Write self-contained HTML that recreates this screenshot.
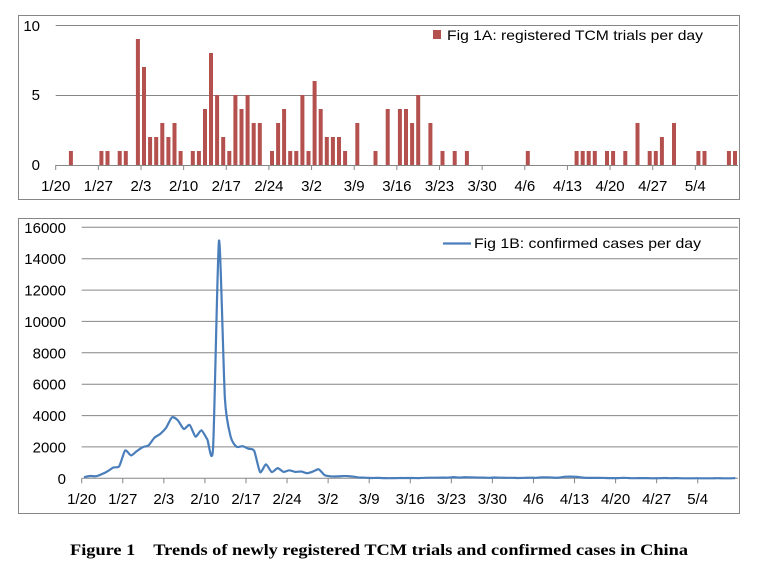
<!DOCTYPE html>
<html><head><meta charset="utf-8"><style>
html,body{margin:0;padding:0;background:#fff}
svg{display:block}
text{font-family:"Liberation Sans",sans-serif;fill:#000}
</style></head><body>
<svg id="s" width="757" height="573" xmlns="http://www.w3.org/2000/svg">
<rect x="18.5" y="15.5" width="721" height="184" fill="#fff" stroke="#868686"/>
<rect x="18.5" y="218.5" width="721" height="295" fill="#fff" stroke="#868686"/>
<g id="g"></g>
<text x="70" y="555" font-weight="bold" font-size="15.5" textLength="618" lengthAdjust="spacingAndGlyphs" style="font-family:'Liberation Serif',serif;white-space:pre" xml:space="preserve">Figure 1&#160;&#160;&#160; Trends of newly registered TCM trials and confirmed cases in China</text>
</svg>
<script>
var g=document.getElementById('g'),h='';
var L=55.7,R=738,Z=165,T=25,dw=(R-L)/112;
[25,95,165].forEach(function(y,i){h+='<line x1="'+L+'" x2="'+R+'" y1="'+(y+0.5)+'" y2="'+(y+0.5)+'" stroke="#868686"/>';});
h+='<text x="40" y="31" font-size="15" text-anchor="end">10</text><text x="40" y="100" font-size="15" text-anchor="end">5</text><text x="40" y="170" font-size="15" text-anchor="end">0</text>';
var bars={2:1,7:1,8:1,10:1,11:1,13:9,14:7,15:2,16:2,17:3,18:2,19:3,20:1,22:1,23:1,24:4,25:8,26:5,27:2,28:1,29:5,30:4,31:5,32:3,33:3,35:1,36:3,37:4,38:1,39:1,40:5,41:1,42:6,43:4,44:2,45:2,46:2,47:1,49:3,52:1,54:4,56:4,57:4,58:3,59:5,61:3,63:1,65:1,67:1,77:1,85:1,86:1,87:1,88:1,90:1,91:1,93:1,95:3,97:1,98:1,99:2,101:3,105:1,106:1,110:1,111:1};
for(var k in bars){var c=L+(+k+0.5)*dw,v=bars[k]*(Z-T)/10;h+='<rect x="'+(c-2).toFixed(1)+'" y="'+(Z-v).toFixed(1)+'" width="4" height="'+v.toFixed(1)+'" fill="#b4504e"/>';}
var lab=['1/20','1/27','2/3','2/10','2/17','2/24','3/2','3/9','3/16','3/23','3/30','4/6','4/13','4/20','4/27','5/4'];
lab.forEach(function(s,i){var x=L+i*7*dw;h+='<line x1="'+x+'" x2="'+x+'" y1="'+Z+'" y2="'+(Z+5)+'" stroke="#868686"/><text x="'+x+'" y="191" font-size="15" text-anchor="middle">'+s+'</text>';});
h+='<rect x="433" y="30" width="8" height="9" fill="#b4504e"/><text x="447" y="40" font-size="14" textLength="256" lengthAdjust="spacingAndGlyphs">Fig 1A: registered TCM trials per day</text>';
var L2=81.7,R2=738,Z2=478.3,T2=227.3,dw2=5.867,sc=(Z2-T2)/16000;
for(var i=0;i<=8;i++){var y=Z2-i*2000*sc;h+='<line x1="'+L2+'" x2="'+R2+'" y1="'+y.toFixed(1)+'" y2="'+y.toFixed(1)+'" stroke="#868686"/><text x="66" y="'+(y+5.5).toFixed(1)+'" font-size="15" text-anchor="end">'+(i*2000)+'</text>';}
lab.forEach(function(s,i){var x=L2+i*7*dw2;h+='<line x1="'+x+'" x2="'+x+'" y1="'+Z2+'" y2="'+(Z2+5)+'" stroke="#868686"/><text x="'+x+'" y="504" font-size="15" text-anchor="middle">'+s+'</text>';});
var d=[77,149,131,259,444,688,769,1771,1459,1737,1982,2102,2590,2829,3235,3887,3694,3143,3399,2656,3062,2478,1950,15152,5090,2641,2009,2048,1886,1749,394,889,397,648,409,508,406,433,327,427,573,202,125,119,139,143,99,44,40,19,24,15,8,11,20,16,21,13,34,39,41,46,39,78,47,67,55,54,45,31,48,36,35,31,19,30,39,32,62,63,42,46,99,108,89,46,26,27,27,16,12,11,30,10,6,12,11,3,6,22,4,12,2,1,3,3,1,2,4,1,1,14];
var P=d.map(function(v,i){return [L2+(i+0.4)*dw2,Z2-v*sc];});
var p='M'+P[0][0].toFixed(1)+','+P[0][1].toFixed(1);
for(var i=0;i<P.length-1;i++){var a=P[Math.max(i-1,0)],b=P[i],c=P[i+1],e=P[Math.min(i+2,P.length-1)];
var t=9;
var c1=[b[0]+(c[0]-a[0])/t,b[1]+(c[1]-a[1])/t],c2=[c[0]-(e[0]-b[0])/t,c[1]-(e[1]-b[1])/t];
p+='C'+c1[0].toFixed(1)+','+c1[1].toFixed(1)+' '+c2[0].toFixed(1)+','+c2[1].toFixed(1)+' '+c[0].toFixed(1)+','+c[1].toFixed(1);}
h+='<path d="'+p+'" fill="none" stroke="#4a7ebb" stroke-width="2.2" stroke-linejoin="round"/>';
h+='<line x1="443" x2="471" y1="243.5" y2="243.5" stroke="#4a7ebb" stroke-width="2.2"/><text x="474" y="248" font-size="14" textLength="227" lengthAdjust="spacingAndGlyphs">Fig 1B: confirmed cases per day</text>';
g.innerHTML=h;
</script>
</body></html>
